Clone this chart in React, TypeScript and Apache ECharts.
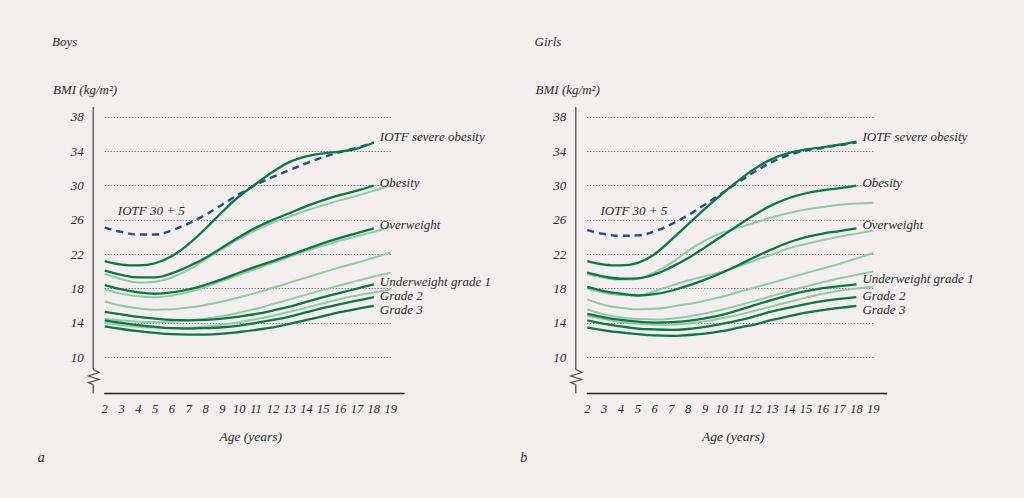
import React, { useEffect, useRef } from 'react';
import * as echarts from 'echarts';

// ages for the IOTF cut-offs (2-18) and for the reference percentiles (2-19)
const ages = [2, 3, 4, 5, 6, 7, 8, 9, 10, 11, 12, 13, 14, 15, 16, 17, 18];
const agesRef = [2, 3, 4, 5, 6, 7, 8, 9, 10, 11, 12, 13, 14, 15, 16, 17, 18, 19];
const xTicks = [2, 3, 4, 5, 6, 7, 8, 9, 10, 11, 12, 13, 14, 15, 16, 17, 18, 19];
const yTicks = [10, 14, 18, 22, 26, 30, 34, 38];

// Boys
const boysSevere = [21.2, 20.8, 20.7, 20.95, 21.8, 23.2, 25.0, 26.95, 28.75, 30.2, 31.6, 32.75, 33.4, 33.75, 33.95, 34.3, 35.0];
const boysPlus5 = [25.1, 24.6, 24.3, 24.3, 24.8, 25.6, 26.6, 27.8, 29.0, 30.1, 31.0, 31.8, 32.6, 33.3, 33.9, 34.4, 35.0];
const boysObesity = [20.1, 19.6, 19.3, 19.3, 19.8, 20.6, 21.6, 22.8, 24.0, 25.1, 26.0, 26.8, 27.6, 28.3, 28.9, 29.4, 30.0];
const boysOverweight = [18.4, 17.9, 17.55, 17.4, 17.55, 17.9, 18.45, 19.1, 19.85, 20.55, 21.2, 21.9, 22.6, 23.3, 23.9, 24.45, 25.0];
const boysThin1 = [15.3, 15.0, 14.7, 14.5, 14.35, 14.3, 14.35, 14.5, 14.75, 15.05, 15.45, 15.9, 16.45, 17.0, 17.5, 18.0, 18.5];
const boysThin2 = [14.3, 14.0, 13.75, 13.55, 13.4, 13.35, 13.4, 13.5, 13.7, 14.0, 14.35, 14.75, 15.25, 15.75, 16.2, 16.6, 17.0];
const boysThin3 = [13.6, 13.3, 13.05, 12.85, 12.7, 12.65, 12.65, 12.75, 12.95, 13.2, 13.5, 13.9, 14.35, 14.8, 15.25, 15.65, 16.0];
const boysRef1 = [19.7, 19.1, 18.7, 18.8, 19.3, 20.2, 21.4, 22.6, 23.8, 24.8, 25.7, 26.4, 27.1, 27.7, 28.3, 28.8, 29.4, 30.0];
const boysRef2 = [17.9, 17.4, 17.1, 17.0, 17.2, 17.6, 18.2, 18.9, 19.6, 20.3, 21.0, 21.7, 22.4, 23.0, 23.6, 24.1, 24.6, 25.2];
const boysRef3 = [16.5, 16.0, 15.7, 15.55, 15.6, 15.8, 16.1, 16.5, 17.0, 17.5, 18.1, 18.7, 19.3, 19.9, 20.5, 21.0, 21.6, 22.2];
const boysRef4 = [14.5, 14.3, 14.15, 14.1, 14.15, 14.3, 14.5, 14.8, 15.2, 15.65, 16.2, 16.75, 17.3, 17.85, 18.4, 18.9, 19.4, 19.85];
const boysRef5 = [14.0, 13.75, 13.55, 13.45, 13.4, 13.45, 13.6, 13.8, 14.1, 14.45, 14.85, 15.3, 15.8, 16.3, 16.8, 17.2, 17.55, 17.9];

// Girls
const girlsSevere = [21.2, 20.8, 20.7, 21.0, 22.0, 23.7, 25.5, 27.3, 29.0, 30.6, 32.0, 33.1, 33.8, 34.2, 34.45, 34.75, 35.1];
const girlsPlus5 = [24.8, 24.35, 24.15, 24.2, 24.65, 25.5, 26.55, 27.8, 29.1, 30.4, 31.65, 32.75, 33.55, 34.1, 34.4, 34.7, 35.0];
const girlsObesity = [19.85, 19.4, 19.15, 19.2, 19.65, 20.5, 21.55, 22.8, 24.1, 25.4, 26.65, 27.75, 28.55, 29.1, 29.45, 29.7, 30.0];
const girlsOverweight = [18.2, 17.7, 17.4, 17.2, 17.35, 17.75, 18.35, 19.05, 19.85, 20.75, 21.7, 22.6, 23.4, 24.0, 24.4, 24.7, 25.0];
const girlsThin1 = [15.05, 14.65, 14.35, 14.15, 14.05, 14.1, 14.25, 14.55, 14.95, 15.5, 16.1, 16.7, 17.25, 17.7, 18.05, 18.3, 18.5];
const girlsThin2 = [14.3, 13.9, 13.6, 13.35, 13.25, 13.2, 13.3, 13.55, 13.9, 14.3, 14.8, 15.35, 15.8, 16.2, 16.55, 16.8, 17.0];
const girlsThin3 = [13.45, 13.15, 12.9, 12.7, 12.55, 12.5, 12.6, 12.75, 13.05, 13.45, 13.85, 14.35, 14.8, 15.2, 15.5, 15.75, 16.0];
const girlsRef1 = [19.7, 19.25, 19.05, 19.15, 19.9, 21.0, 22.4, 23.6, 24.5, 25.1, 25.7, 26.3, 26.8, 27.2, 27.5, 27.75, 27.9, 28.0];
const girlsRef2 = [18.0, 17.5, 17.25, 17.2, 17.7, 18.35, 18.95, 19.45, 19.95, 20.6, 21.3, 22.0, 22.7, 23.2, 23.65, 24.05, 24.4, 24.75];
const girlsRef3 = [16.75, 16.1, 15.75, 15.6, 15.65, 15.9, 16.2, 16.6, 17.05, 17.6, 18.15, 18.7, 19.25, 19.8, 20.35, 20.9, 21.5, 22.15];
const girlsRef4 = [15.6, 15.0, 14.65, 14.45, 14.4, 14.5, 14.75, 15.1, 15.55, 16.05, 16.6, 17.15, 17.7, 18.25, 18.75, 19.2, 19.6, 20.0];
const girlsRef5 = [14.85, 14.45, 14.1, 13.9, 13.8, 13.8, 13.95, 14.2, 14.55, 14.95, 15.45, 15.95, 16.45, 16.95, 17.4, 17.75, 18.0, 18.25];

const cutoffNames = ['IOTF severe obesity', 'Obesity', 'Overweight', 'Underweight grade 1', 'Grade 2', 'Grade 3'];

const BG = '#f2efee';
const DARK = '#0b7944';
const LIGHT = '#93c9a4';
const BLUE = '#1d4f93';
const TEXT = '#2b2b2b';
const FONT = '"Liberation Serif", "Times New Roman", serif';

const GRID_TOP = 108.2;
const GRID_H = 283.5;
const GRID_W = 299.4;
const lefts = [104.7, 587.3];
const labelDy = [
    [-6, -3, -4, -3, -2, 4],
    [-5, -3, -4, -6, -2, 4],
];

const panels = [
    {
        title: 'Boys', letter: 'a', plus5: boysPlus5,
        cutoffs: [boysSevere, boysObesity, boysOverweight, boysThin1, boysThin2, boysThin3],
        refs: [boysRef1, boysRef2, boysRef3, boysRef4, boysRef5],
    },
    {
        title: 'Girls', letter: 'b', plus5: girlsPlus5,
        cutoffs: [girlsSevere, girlsObesity, girlsOverweight, girlsThin1, girlsThin2, girlsThin3],
        refs: [girlsRef1, girlsRef2, girlsRef3, girlsRef4, girlsRef5],
    },
];

function pairs(xs: number[], ys: number[]) {
    return ys.map((v, i) => [xs[i], v]);
}

function buildOption(): echarts.EChartsOption {
    const series: any[] = [];
    const graphic: any[] = [];

    panels.forEach((p, i) => {
        p.refs.forEach((r, k) => {
            series.push({
                type: 'line', xAxisIndex: i, yAxisIndex: i, data: pairs(agesRef, r),
                smooth: 0.4, showSymbol: false, silent: true, z: 2,
                lineStyle: { color: LIGHT, width: 2 },
                markLine: k === 0 ? {
                    silent: true, symbol: 'none', z: 1, label: { show: false },
                    lineStyle: { color: '#555', width: 1, type: [1, 2] },
                    data: yTicks.map((v) => [{ coord: [2, v] }, { coord: [19, v] }]),
                } : undefined,
            });
        });
        p.cutoffs.forEach((c, k) => {
            series.push({
                type: 'line', name: cutoffNames[k], xAxisIndex: i, yAxisIndex: i,
                data: pairs(ages, c), smooth: 0.4, showSymbol: false, silent: true, z: 4,
                lineStyle: { color: DARK, width: 2.3 },
                endLabel: {
                    show: true, formatter: cutoffNames[k], distance: 6, offset: [0, labelDy[i][k]],
                    color: TEXT, fontFamily: FONT, fontStyle: 'italic', fontSize: 13,
                },
            });
        });
        series.push({
            type: 'line', xAxisIndex: i, yAxisIndex: i, data: pairs(ages, p.plus5),
            smooth: 0.4, showSymbol: false, silent: true, z: 3,
            lineStyle: { color: BLUE, width: 2.4, type: [7, 5] },
            markPoint: {
                silent: true, symbol: 'circle', symbolSize: 1,
                itemStyle: { color: 'rgba(0,0,0,0)' },
                label: {
                    show: true, position: 'inside', formatter: 'IOTF 30 + 5',
                    color: TEXT, fontFamily: FONT, fontStyle: 'italic', fontSize: 13,
                },
                data: [{ coord: [4.77, 27.07] }],
            },
        });

        const L = lefts[i];
        const ax = L - 11.5;
        const font = `italic 13px ${FONT}`;
        graphic.push(
            { type: 'text', style: { text: p.title, x: L - 52.7, y: 41, font, fill: TEXT, verticalAlign: 'middle' } },
            { type: 'text', style: { text: 'BMI (kg/m²)', x: L - 51.7, y: 89, font, fill: TEXT, verticalAlign: 'middle' } },
            { type: 'text', style: { text: 'Age (years)', x: L + 146, y: 436, font: `italic 13.5px ${FONT}`, fill: TEXT, align: 'center', verticalAlign: 'middle' } },
            { type: 'text', style: { text: p.letter, x: L - 67, y: 457, font: `italic 14px ${FONT}`, fill: TEXT, verticalAlign: 'middle' } },
            { type: 'line', shape: { x1: ax, y1: 107, x2: ax, y2: 369.5 }, style: { stroke: '#444', lineWidth: 1.2 } },
            {
                type: 'polyline',
                shape: { points: [[ax, 369.5], [ax + 6, 372.5], [ax - 5, 376], [ax + 6, 379.5], [ax - 5, 382.5], [ax, 384.5]] },
                style: { stroke: '#444', lineWidth: 1.1, fill: 'none' },
            },
            { type: 'line', shape: { x1: ax, y1: 384.5, x2: ax, y2: 393.3 }, style: { stroke: '#444', lineWidth: 1.2 } },
        );
    });

    const axisLabel = { color: TEXT, fontFamily: FONT, fontStyle: 'italic' as const, fontSize: 12.5 };

    return {
        animation: false,
        backgroundColor: BG,
        grid: lefts.map((l) => ({ left: l, top: GRID_TOP, width: GRID_W, height: GRID_H })),
        xAxis: lefts.map((_, i) => ({
            type: 'value', gridIndex: i, min: 2, max: 19.8, interval: 1, offset: 1.6,
            axisLine: { show: true, lineStyle: { color: '#222', width: 1.3 } },
            axisTick: { show: false }, splitLine: { show: false },
            axisLabel: { ...axisLabel, margin: 9.5, formatter: (v: number) => (xTicks.includes(v) ? String(v) : '') },
        })),
        yAxis: lefts.map((_, i) => ({
            type: 'value', gridIndex: i, min: 6, max: 39, interval: 4,
            axisLine: { show: false }, axisTick: { show: false }, splitLine: { show: false },
            axisLabel: { ...axisLabel, fontSize: 13, margin: 21, formatter: (v: number) => (yTicks.includes(v) ? String(v) : '') },
        })),
        series,
        graphic,
    };
}

export default function App() {
    const chartRef = useRef<HTMLDivElement>(null);

    useEffect(() => {
        document.body.style.margin = '0';
        document.body.style.background = BG;
        let chart: echarts.ECharts | undefined;
        if (chartRef.current !== null) {
            chart = echarts.init(chartRef.current, undefined, { renderer: 'svg' });
            chart.setOption(buildOption());
        }
        return () => {
            chart?.dispose();
        };
    }, []);

    return <div ref={chartRef} style={{ width: 1024, height: 498, background: BG }} />;
}
